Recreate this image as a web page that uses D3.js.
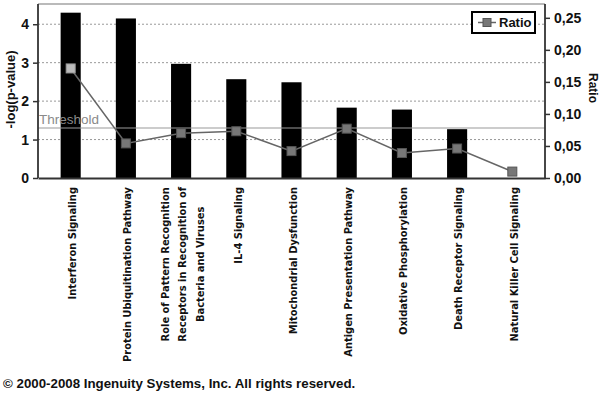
<!DOCTYPE html>
<html><head><meta charset="utf-8">
<script src="https://cdn.jsdelivr.net/npm/d3@7/dist/d3.min.js"></script>
<style>
html,body{margin:0;padding:0;background:#fff;}
svg{display:block;}
</style></head>
<body>
<script>
const categories = [
  "Interferon Signaling",
  "Protein Ubiquitination Pathway",
  "Role of Pattern Recognition\nReceptors in Recognition of\nBacteria and Viruses",
  "IL-4 Signaling",
  "Mitochondrial Dysfunction",
  "Antigen Presentation Pathway",
  "Oxidative Phosphorylation",
  "Death Receptor Signaling",
  "Natural Killer Cell Signaling"
];
const negLogP = [4.30, 4.15, 2.97, 2.57, 2.49, 1.83, 1.78, 1.27, 0];
const ratio = [0.171, 0.054, 0.070, 0.073, 0.042, 0.077, 0.039, 0.046, 0.010];
const leftTicks = [0, 1, 2, 3, 4];
const rightTicks = [0, 0.05, 0.10, 0.15, 0.20, 0.25];
const threshold = 1.3;
const footer = "\u00A9 2000-2008 Ingenuity Systems, Inc. All rights reserved.";

const W = 600, H = 394;
const L = 38, R = 545, T = 5, B = 178;
const svg = d3.select("body").append("svg").attr("width", W).attr("height", H);

const x = d3.scaleBand().domain(categories).range([L, R]).paddingInner(0.636).paddingOuter(0.41);
const y = d3.scaleLinear().domain([0, 4.5]).range([B, T]);
const y2 = d3.scaleLinear().domain([0, 0.27]).range([B, T]);

// gridlines
svg.append("g").selectAll("line").data(leftTicks.filter(d => d > 0)).join("line")
  .attr("x1", L).attr("x2", R).attr("y1", d => y(d)).attr("y2", d => y(d))
  .attr("stroke", "#999").attr("stroke-width", 1).attr("stroke-dasharray", "2,2");

// top border
svg.append("line").attr("x1", L).attr("x2", R).attr("y1", T - 1).attr("y2", T - 1)
  .attr("stroke", "#777").attr("stroke-width", 1.2);

// bars
svg.append("g").selectAll("rect").data(categories).join("rect")
  .attr("x", d => x(d)).attr("width", x.bandwidth())
  .attr("y", (d, i) => y(negLogP[i])).attr("height", (d, i) => B - y(negLogP[i]))
  .attr("fill", "#000");

// threshold
svg.append("line").attr("x1", L).attr("x2", R).attr("y1", y(threshold)).attr("y2", y(threshold))
  .attr("stroke", "#999").attr("stroke-width", 1.2);
svg.append("text").attr("x", L + 1).attr("y", y(threshold) - 4)
  .attr("font-family", "Liberation Sans, Arial, sans-serif").attr("font-size", 13.5)
  .attr("fill", "#8a8a8a").text("Threshold");

// ratio line
const line = d3.line().x((d, i) => x(categories[i]) + x.bandwidth() / 2).y(d => y2(d));
svg.append("path").datum(ratio).attr("d", line).attr("fill", "none")
  .attr("stroke", "#666").attr("stroke-width", 1.5);
svg.append("g").selectAll("rect").data(ratio).join("rect")
  .attr("x", (d, i) => x(categories[i]) + x.bandwidth() / 2 - 4.5)
  .attr("y", d => y2(d) - 4.5).attr("width", 9).attr("height", 9)
  .attr("fill", (d, i) => i === 0 ? "#bbb" : "#777")
  .attr("stroke", (d, i) => i === 0 ? "#999" : "#555").attr("stroke-width", 1);

// axes
const axFont = "Liberation Sans, Arial, sans-serif";
const gl = svg.append("g").attr("transform", `translate(${L},0)`)
  .call(d3.axisLeft(y).tickValues(leftTicks).tickFormat(d3.format("d")).tickSize(5).tickPadding(4));
const gr = svg.append("g").attr("transform", `translate(${R},0)`)
  .call(d3.axisRight(y2).tickValues(rightTicks).tickFormat(d => d3.format(".2f")(d).replace(".", ",")).tickSize(5).tickPadding(4));
const gb = svg.append("g").attr("transform", `translate(0,${B})`)
  .call(d3.axisBottom(x).tickSize(0).tickFormat(""));
[gl, gr, gb].forEach(g => {
  g.select(".domain").attr("stroke", "#333").attr("stroke-width", 1.8);
  g.selectAll(".tick line").attr("stroke", "#333").attr("stroke-width", 1.5);
  g.selectAll(".tick text").attr("font-family", axFont).attr("font-size", 14)
    .attr("font-weight", "bold").attr("fill", "#111");
});
gl.select(".domain").attr("d", `M0,${T - 1}V${B}`);
gr.select(".domain").attr("d", `M0,${T - 1}V${B}`);

// axis titles
svg.append("text").attr("transform", `translate(15,${(T + B) / 2 - 2}) rotate(-90)`)
  .attr("text-anchor", "middle").attr("font-family", axFont).attr("font-size", 13)
  .attr("font-weight", "bold").attr("fill", "#111").text("-log(p-value)");
svg.append("text").attr("transform", `translate(589,${88}) rotate(90)`)
  .attr("text-anchor", "middle").attr("font-family", axFont).attr("font-size", 12)
  .attr("font-weight", "bold").attr("fill", "#111").text("Ratio");

// category labels
const catFont = "DejaVu Sans Condensed, DejaVu Sans, sans-serif";
const topY = 187, lh = 17.5;
categories.forEach((c, i) => {
  const lines = c.split("\n");
  const cx = x(c) + x.bandwidth() / 2 + 1.5;
  const g = svg.append("g").attr("transform", `translate(${cx},${topY}) rotate(-90)`);
  const texts = lines.map((s, j) => g.append("text")
    .attr("y", (j - (lines.length - 1) / 2) * lh)
    .attr("dy", "0.35em")
    .attr("font-family", catFont).attr("font-size", 11).attr("font-weight", "bold")
    .attr("fill", "#111").attr("text-anchor", "middle").text(s));
  const maxLen = d3.max(texts, t => t.node().getComputedTextLength());
  texts.forEach(t => t.attr("x", -maxLen / 2));
});

// legend
const lg = svg.append("g");
lg.append("rect").attr("x", 472).attr("y", 12).attr("width", 63).attr("height", 21)
  .attr("fill", "#fff").attr("stroke", "#000").attr("stroke-width", 2);
lg.append("line").attr("x1", 478).attr("x2", 496).attr("y1", 22.5).attr("y2", 22.5)
  .attr("stroke", "#666").attr("stroke-width", 1.5);
lg.append("rect").attr("x", 483).attr("y", 18.5).attr("width", 8).attr("height", 8)
  .attr("fill", "#777").attr("stroke", "#555");
lg.append("text").attr("x", 499).attr("y", 27).attr("font-family", axFont)
  .attr("font-size", 13).attr("font-weight", "bold").attr("fill", "#111").text("Ratio");

// footer
svg.append("text").attr("x", 3).attr("y", 388).attr("font-family", axFont)
  .attr("font-size", 13.3).attr("font-weight", "bold").attr("fill", "#111").text(footer);
</script>
</body></html>
